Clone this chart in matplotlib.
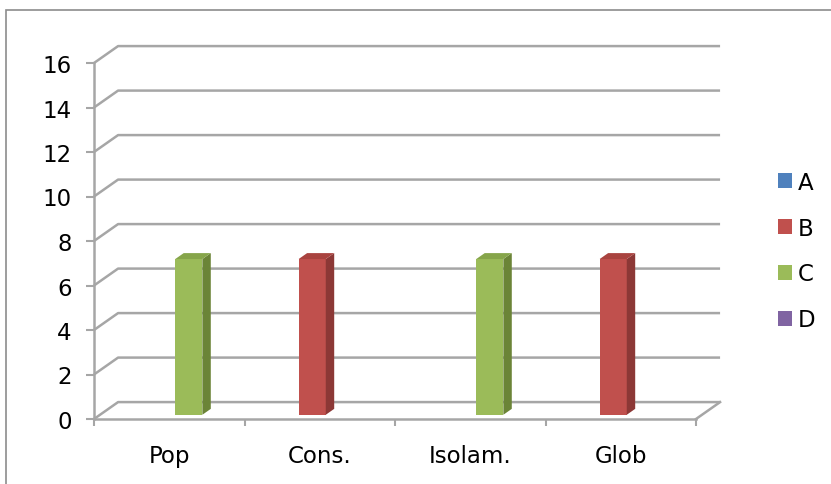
import matplotlib.pyplot as plt
from matplotlib.patches import Polygon, Patch, Rectangle
import numpy as np

#%% data
categories = ["Pop", "Cons.", "Isolam.", "Glob"]
seriesNames = ["A", "B", "C", "D"]
valsA = [0, 0, 0, 0]
valsB = [0, 7, 0, 7]
valsC = [7, 0, 7, 0]
valsD = [0, 0, 0, 0]
yTicks = [0, 2, 4, 6, 8, 10, 12, 14, 16]

#%% styling
faceColors = ["#4F81BD", "#C0504D", "#9BBB59", "#8064A2"]
sideColors = ["#385D8A", "#8C3836", "#6B8437", "#5C4776"]
topColors = ["#4A77AE", "#A9433F", "#86A54A", "#735A93"]
gridGray = "#A6A6A6"
fontSize = 16.5

# fake 3D depth of the wall, in data units
DX = 0.16
DY = 0.76
barW = 0.18
frontFrac = 0.25
depthFrac = 0.35

fig = plt.figure(figsize=(8.31, 4.85), dpi=100)
fig.patch.set_facecolor("white")
ax = fig.add_axes([94/831, 65/485, 602/831, 356/485])
ax.set_xlim(-0.5, 3.5)
ax.set_ylim(0, 16)
ax.patch.set_alpha(0)

# outer chart border
fig.patches.append(Rectangle((6/831, -0.1), 2, 1.1 - 11/485, transform=fig.transFigure,
                             fill=False, edgecolor="#8C8C8C", linewidth=1.2))

# back wall gridlines + side wall diagonals
x0, x1 = -0.5, 3.5
for v in yTicks:
    ax.plot([x0, x0 + DX, x1 + DX], [v, v + DY, v + DY], color=gridGray,
            linewidth=1.8, clip_on=False, zorder=1, solid_capstyle="butt")
# floor right edge
ax.plot([x1, x1 + DX], [0, DY], color=gridGray, linewidth=1.8, clip_on=False, zorder=1)

# bars
allVals = [valsA, valsB, valsC, valsD]
xc = np.arange(len(categories))
for i, vals in enumerate(allVals):
    left = xc + (i - 1.5) * barW - barW / 2 + frontFrac * DX
    base = frontFrac * DY
    ax.bar(left, vals, width=barW, bottom=base, align="edge", color=faceColors[i],
           linewidth=0, zorder=3, clip_on=False)
    ddx, ddy = depthFrac * DX, depthFrac * DY
    for xl, v in zip(left, vals):
        if v == 0:
            continue
        xr = xl + barW
        side = Polygon([(xr, base), (xr + ddx, base + ddy), (xr + ddx, base + v + ddy), (xr, base + v)],
                       closed=True, facecolor=sideColors[i], edgecolor="none", zorder=3, clip_on=False)
        top = Polygon([(xl, base + v), (xr, base + v), (xr + ddx, base + v + ddy), (xl + ddx, base + v + ddy)],
                      closed=True, facecolor=topColors[i], edgecolor="none", zorder=3, clip_on=False)
        ax.add_patch(side)
        ax.add_patch(top)

# axes
for s in ["top", "right"]:
    ax.spines[s].set_visible(False)
for s in ["left", "bottom"]:
    ax.spines[s].set_color(gridGray)
    ax.spines[s].set_linewidth(1.8)
    ax.spines[s].set_zorder(2)
ax.set_yticks(yTicks)
ax.set_yticklabels([str(t) for t in yTicks], fontsize=fontSize)
ax.tick_params(axis="y", direction="out", length=6, width=1.5, color=gridGray, pad=10)
ax.set_xticks(xc)
ax.set_xticklabels(categories, fontsize=fontSize)
ax.set_xticks(np.arange(-0.5, 3.6, 1), minor=True)
ax.tick_params(axis="x", which="major", length=0, pad=18)
ax.tick_params(axis="x", which="minor", direction="out", length=5, width=1.5, color=gridGray)

# legend
handles = [Patch(facecolor=c, edgecolor="none") for c in faceColors]
fig.legend(handles, seriesNames, loc="center left", bbox_to_anchor=(767/831, 1 - 252/485),
           frameon=False, fontsize=fontSize, handlelength=0.6, handleheight=0.6,
           handletextpad=0.25, labelspacing=1.0, borderpad=0)

fig.savefig("out.png", dpi=100, facecolor="white")
